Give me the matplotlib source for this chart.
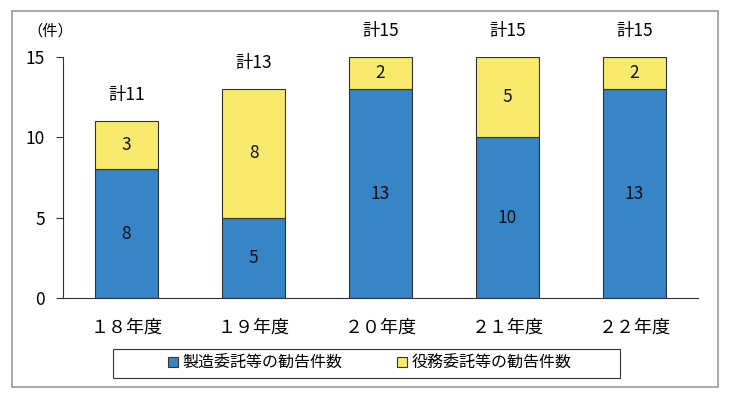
import matplotlib
matplotlib.use("Agg")
import matplotlib.pyplot as plt
from matplotlib.patches import Rectangle

plt.rcParams['font.family'] = ['Noto Sans CJK JP', 'DejaVu Sans']

categories = ["１８年度", "１９年度", "２０年度", "２１年度", "２２年度"]
manufacturing = [8, 5, 13, 10, 13]
services = [3, 8, 2, 5, 2]
series_names = ["製造委託等の勧告件数", "役務委託等の勧告件数"]
yticks = [0, 5, 10, 15]
blue = "#3784C6"
yellow = "#F7EA6C"

W, H = 730, 399
fig = plt.figure(figsize=(W/100, H/100), dpi=100)
# outer frame
fig.patches.append(Rectangle((12/W, 1-387/H), (718-12)/W, (387-11)/H,
                             transform=fig.transFigure, fill=False,
                             edgecolor="#999999", linewidth=1.2))
# legend frame
fig.patches.append(Rectangle((113/W, 1-378/H), (620-113)/W, (378-349)/H,
                             transform=fig.transFigure, fill=False,
                             edgecolor="#333333", linewidth=0.8))
ax = fig.add_axes([63/W, 1-298/H, (698-63)/W, (298-57)/H])
x = list(range(len(categories)))
w = 0.5
b1 = ax.bar(x, manufacturing, width=w, color=blue, edgecolor="#333333", linewidth=0.8,
            label=series_names[0])
b2 = ax.bar(x, services, width=w, bottom=manufacturing, color=yellow,
            edgecolor="#333333", linewidth=0.8, label=series_names[1])
for i in x:
    m, s = manufacturing[i], services[i]
    ax.text(i, m/2, str(m), ha='center', va='center', fontsize=12.5, color='#111111')
    ax.text(i, m + s/2, str(s), ha='center', va='center', fontsize=12.5, color='#111111')
    ax.annotate(f"計{m+s}", (i, m+s), xytext=(0, 19), textcoords='offset points',
                ha='center', va='center', fontsize=12.5, annotation_clip=False)

ax.set_xlim(-0.5, 4.5)
ax.set_ylim(0, 15)
ax.set_yticks(yticks)
ax.set_yticklabels([str(t) for t in yticks], fontsize=12.5)
ax.set_xticks(x)
ax.set_xticklabels(categories, fontsize=13)
ax.tick_params(axis='x', length=0, pad=15)
ax.tick_params(axis='y', direction='out', length=5, pad=8, color='#333333')
for sp in ['top', 'right']:
    ax.spines[sp].set_visible(False)
ax.spines['left'].set_color('#333333')
ax.spines['bottom'].set_color('#333333')
fig.text(50/W, 1-31/H, "（件）", ha='center', va='center', fontsize=11)

leg = fig.legend(handles=[b1, b2], loc='center', bbox_to_anchor=(370/W, 1-363/H),
                 ncol=2, fontsize=11.5, frameon=False,
                 handlelength=0.6, handleheight=0.6, handletextpad=0.3, columnspacing=3.4,
                 borderpad=0.3, borderaxespad=0)

fig.savefig("out.png", dpi=100)
